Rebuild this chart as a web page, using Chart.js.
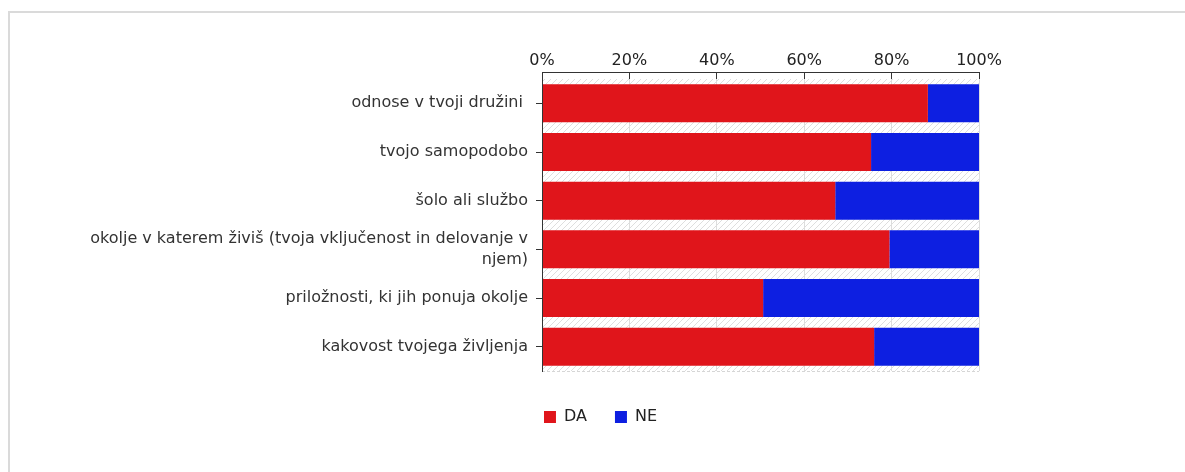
<!DOCTYPE html>
<html>
<head>
<meta charset="utf-8">
<script src="https://cdn.jsdelivr.net/npm/chart.js@4"></script>
<style>
    html, body { margin: 0; padding: 0; background: #fff; }
    body { width: 1185px; height: 472px; overflow: hidden; position: relative; }
    .frame {
        position: absolute; left: 8px; top: 11px; width: 1200px; height: 500px;
        border-top: 2px solid #dadada; border-left: 2px solid #dadada;
    }
    #chart { position: absolute; left: 0; top: 0; }
</style>
</head>
<body>
<div class="frame"></div>
<canvas id="chart" width="1185" height="472"></canvas>
<script>
const categories = [
    'odnose v tvoji družini ',
    'tvojo samopodobo',
    'šolo ali službo',
    ['okolje v katerem živiš (tvoja vključenost in delovanje v', 'njem)'],
    'priložnosti, ki jih ponuja okolje',
    'kakovost tvojega življenja'
];
const seriesNames = ['DA', 'NE'];
const daValues = [88.3, 75.3, 67.1, 79.5, 50.6, 76.0];
const neValues = [11.7, 24.7, 32.9, 20.5, 49.4, 24.0];
const xTicks = [0, 20, 40, 60, 80, 100];

const FONT = 'DejaVu Sans';
const axisColor = '#333333';

// diagonal hatch used behind the bars
function makeHatch(ctx) {
    const c = document.createElement('canvas');
    c.width = 6; c.height = 6;
    const p = c.getContext('2d');
    p.fillStyle = '#ffffff';
    p.fillRect(0, 0, 6, 6);
    p.strokeStyle = '#dedede';
    p.lineWidth = 1;
    p.beginPath();
    p.moveTo(0, 6); p.lineTo(6, 0);
    p.moveTo(-1, 1); p.lineTo(1, -1);
    p.moveTo(5, 7); p.lineTo(7, 5);
    p.stroke();
    return ctx.createPattern(c, 'repeat');
}

const plotDecor = {
    id: 'plotDecor',
    afterLayout(chart) {
        // legend sits centred under the plot, not under the whole canvas
        chart.legend.left = 222;
    },
    beforeDraw(chart) {
        const {ctx, chartArea: a} = chart;
        ctx.save();
        ctx.fillStyle = makeHatch(ctx);
        ctx.fillRect(a.left, a.top, a.right - a.left, a.bottom - a.top);
        ctx.restore();
    },
    afterDraw(chart) {
        const {ctx, chartArea: a} = chart;
        const axisTop = a.top - 7;
        ctx.save();
        ctx.strokeStyle = '#d6d6d6';
        ctx.setLineDash([3, 2]);
        ctx.beginPath();
        ctx.moveTo(a.left, a.bottom + 0.5);
        ctx.lineTo(a.right, a.bottom + 0.5);
        ctx.stroke();
        ctx.setLineDash([]);
        ctx.strokeStyle = axisColor;
        ctx.lineWidth = 1;
        ctx.beginPath();
        ctx.moveTo(a.left + 0.5, axisTop);
        ctx.lineTo(a.left + 0.5, a.bottom + 1);
        ctx.moveTo(a.left, axisTop + 0.5);
        ctx.lineTo(a.right + 0.5, axisTop + 0.5);
        ctx.stroke();
        ctx.restore();
    }
};

new Chart(document.getElementById('chart'), {
    type: 'bar',
    data: {
        labels: categories,
        datasets: [
            {
                label: seriesNames[0],
                data: daValues,
                backgroundColor: '#e0151b',
                borderWidth: 0,
                barPercentage: 0.78,
                categoryPercentage: 1
            },
            {
                label: seriesNames[1],
                data: neValues,
                backgroundColor: '#0d1fe1',
                borderWidth: 0,
                barPercentage: 0.78,
                categoryPercentage: 1
            }
        ]
    },
    options: {
        indexAxis: 'y',
        responsive: false,
        animation: false,
        devicePixelRatio: 1,
        layout: {
            padding: { left: 0, right: 206, top: 0, bottom: 37 }
        },
        scales: {
            x: {
                position: 'top',
                stacked: true,
                min: 0,
                max: 100,
                afterBuildTicks: scale => {
                    scale.ticks = xTicks.map(v => ({ value: v }));
                },
                afterFit: scale => { scale.height = 79; },
                border: { display: false },
                grid: {
                    color: '#dddddd',
                    tickColor: axisColor,
                    tickLength: 7
                },
                ticks: {
                    padding: 2,
                    color: '#222',
                    font: { family: FONT, size: 16 },
                    callback: v => v + '%'
                }
            },
            y: {
                stacked: true,
                afterFit: scale => { scale.width = 542; },
                border: { display: false },
                grid: {
                    offset: false,
                    drawOnChartArea: false,
                    tickColor: axisColor,
                    tickLength: 6
                },
                ticks: {
                    autoSkip: false,
                    padding: 8,
                    color: '#333',
                    font: { family: FONT, size: 16, lineHeight: 1.3 }
                }
            }
        },
        plugins: {
            tooltip: { enabled: false },
            legend: {
                position: 'bottom',
                title: {
                    display: true,
                    text: '',
                    padding: 0,
                    font: { size: 10, lineHeight: 1 }
                },
                labels: {
                    boxWidth: 12,
                    boxHeight: 12,
                    padding: 28,
                    color: '#222',
                    font: { family: FONT, size: 16 }
                }
            }
        }
    },
    plugins: [plotDecor]
});
</script>
</body>
</html>
